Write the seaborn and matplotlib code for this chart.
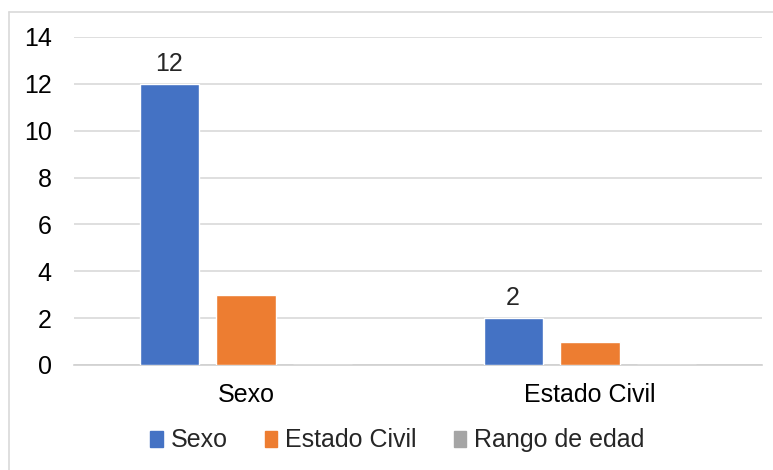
import matplotlib
matplotlib.use("Agg")
import matplotlib.pyplot as plt
from matplotlib.lines import Line2D
import pandas as pd
import seaborn as sns

categories = ["Sexo", "Estado Civil"]
series = ["Sexo", "Estado Civil", "Rango de edad"]
sexo_vals = [12, 2]
civil_vals = [3, 1]
edad_vals = [0, 0]
colors = ["#4472C4", "#ED7D31", "#A5A5A5"]

rows = []
for s, vals in zip(series, [sexo_vals, civil_vals, edad_vals]):
    for c, v in zip(categories, vals):
        rows.append({"cat": c, "serie": s, "valor": v})
df = pd.DataFrame(rows)

sns.set_style("white")
plt.rcParams['font.family'] = ['Liberation Sans', 'DejaVu Sans']

fig = plt.figure(figsize=(7.73, 4.70), dpi=100)
ax = fig.add_axes([74 / 773, 1 - 365 / 470, (762 - 74) / 773, (365 - 37) / 470])

sns.barplot(data=df, x="cat", y="valor", hue="serie", palette=colors,
            order=categories, hue_order=series, width=0.67, gap=0.23,
            saturation=1, errorbar=None, ax=ax, zorder=3)

ax.set_ylim(0, 14)
ax.set_yticks(range(0, 15, 2))
ax.grid(axis="y", color="#d9d9d9", linewidth=1.2, zorder=0)
for sp in ["top", "right", "left"]:
    ax.spines[sp].set_visible(False)
ax.spines["bottom"].set_color("#d0d0d0")
ax.spines["bottom"].set_linewidth(1.2)
ax.set_xlabel("")
ax.set_ylabel("")
ax.tick_params(axis="both", length=0, labelsize=18, colors="#000000")
ax.tick_params(axis="x", pad=13)
ax.tick_params(axis="y", pad=16)

ax.bar_label(ax.containers[0], fontsize=18, padding=6)

handles = [plt.Rectangle((0, 0), 1, 1, color=c) for c in colors]
ax.legend(handles, series, loc="center", bbox_to_anchor=(0.47, -0.23),
          ncol=3, frameon=False, fontsize=18, handlelength=0.5,
          handleheight=0.6, handletextpad=0.3, columnspacing=1.5)

# light chart-area border
fig.add_artist(Line2D([9 / 773, 9 / 773], [0, 1 - 12 / 470], color="#d9d9d9", lw=1.2))
fig.add_artist(Line2D([9 / 773, 1], [1 - 12 / 470, 1 - 12 / 470], color="#d9d9d9", lw=1.2))

fig.savefig("out.png", dpi=100)
